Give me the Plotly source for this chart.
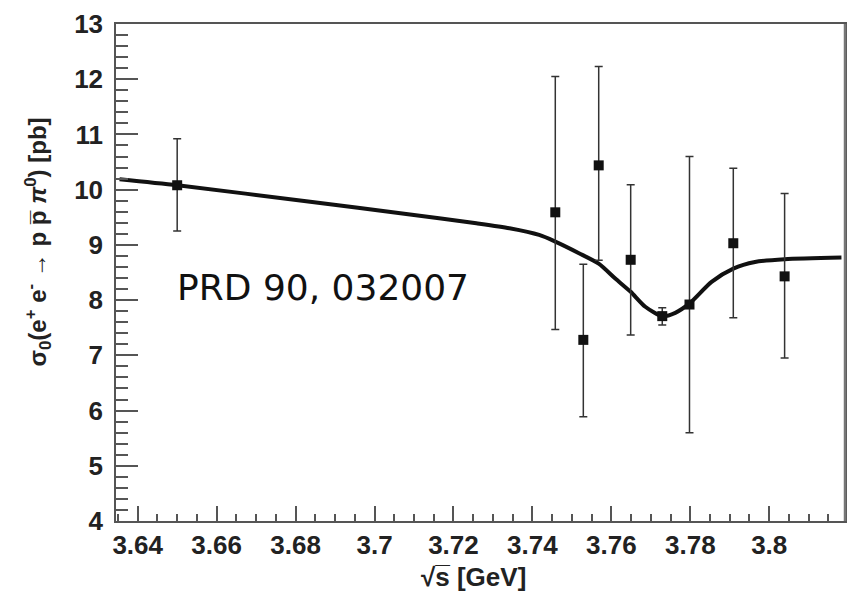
import plotly.graph_objects as go

# measured data points
x_data = [3.6500, 3.7458, 3.7529, 3.7568, 3.7649, 3.7729, 3.7798, 3.7909, 3.8039]
y_data = [10.08, 9.59, 7.28, 10.44, 8.73, 7.71, 7.92, 9.03, 8.43]
err_plus = [0.84, 2.46, 1.37, 1.79, 1.36, 0.15, 2.68, 1.36, 1.50]
err_minus = [0.83, 2.12, 1.39, 1.72, 1.36, 0.16, 2.32, 1.35, 1.48]

# fit curve
curve_x = [3.6354, 3.6501, 3.6837, 3.7090, 3.7258, 3.7342, 3.7417, 3.7458, 3.7518,
           3.7568, 3.7610, 3.7649, 3.7686, 3.7729, 3.7762, 3.7798, 3.7854, 3.7909,
           3.7964, 3.8039, 3.8183]
curve_y = [10.19, 10.08, 9.78, 9.55, 9.39, 9.30, 9.18, 9.06, 8.85,
           8.66, 8.39, 8.15, 7.88, 7.71, 7.77, 7.94, 8.33, 8.57,
           8.69, 8.74, 8.77]

x_ticks = [3.64, 3.66, 3.68, 3.70, 3.72, 3.74, 3.76, 3.78, 3.80]
x_ticklabels = ["3.64", "3.66", "3.68", "3.7", "3.72", "3.74", "3.76", "3.78", "3.8"]
y_ticks = [4, 5, 6, 7, 8, 9, 10, 11, 12, 13]

fig = go.Figure()
fig.add_trace(go.Scatter(
    x=curve_x, y=curve_y, mode="lines",
    line=dict(color="#111111", width=4, shape="spline", smoothing=0.7),
    hoverinfo="skip", showlegend=False))
fig.add_trace(go.Scatter(
    x=x_data, y=y_data, mode="markers",
    marker=dict(symbol="square", size=10, color="#111111"),
    error_y=dict(type="data", symmetric=False, array=err_plus, arrayminus=err_minus,
                 color="#333333", thickness=1.5, width=4),
    showlegend=False))

tickfont = dict(family="Liberation Sans, Arial, sans-serif", size=26, color="#222222", weight="bold")
axis_common = dict(showline=True, linecolor="#555555", linewidth=1.5, mirror=True,
                   showgrid=False, zeroline=False, ticks="inside", tickcolor="#555555",
                   tickwidth=1.5, tickfont=tickfont)

fig.update_xaxes(range=[3.6345, 3.8192], tickvals=x_ticks, ticktext=x_ticklabels,
                 ticklen=15, ticklabelstandoff=0,
                 minor=dict(dtick=0.005, tick0=3.64, ticks="inside", ticklen=7,
                            tickcolor="#555555", tickwidth=1.5),
                 **axis_common)
fig.update_yaxes(range=[4, 13], tickvals=y_ticks, ticklen=22, ticklabelstandoff=6,
                 minor=dict(dtick=0.2, tick0=4, ticks="inside", ticklen=12,
                            tickcolor="#555555", tickwidth=1.5),
                 **axis_common)

title_font = dict(family="Liberation Sans, Arial, sans-serif", size=24, color="#222222", weight="bold")
fig.add_annotation(
    text="σ<sub>0</sub>(e<sup>+</sup> e<sup>-</sup> → p p\u0305 <i>π</i><sup>0</sup>) [pb]",
    xref="paper", yref="paper", x=-0.1067, y=0.561, textangle=-90,
    showarrow=False, font=title_font, xanchor="center", yanchor="middle")
fig.add_annotation(
    text="√s\u0305 [GeV]", xref="paper", yref="paper", x=0.491, y=-0.1127,
    showarrow=False, font=dict(family="Liberation Sans, Arial, sans-serif", size=26,
                               color="#222222", weight="bold"),
    xanchor="center", yanchor="middle")
fig.add_annotation(
    text="PRD 90, 032007", xref="paper", yref="paper", x=0.081, y=0.4708,
    showarrow=False, font=dict(family="DejaVu Sans, sans-serif", size=36, color="#111111"),
    xanchor="left", yanchor="middle")

# right frame edge slightly heavier, as in the reference
fig.add_shape(type="line", xref="paper", yref="paper", x0=1, x1=1, y0=0, y1=1,
              line=dict(color="#777777", width=2.5))

fig.update_layout(width=856, height=599, margin=dict(l=116, r=9, t=24, b=78),
                  plot_bgcolor="white", paper_bgcolor="white")
fig.write_html("out.html")
